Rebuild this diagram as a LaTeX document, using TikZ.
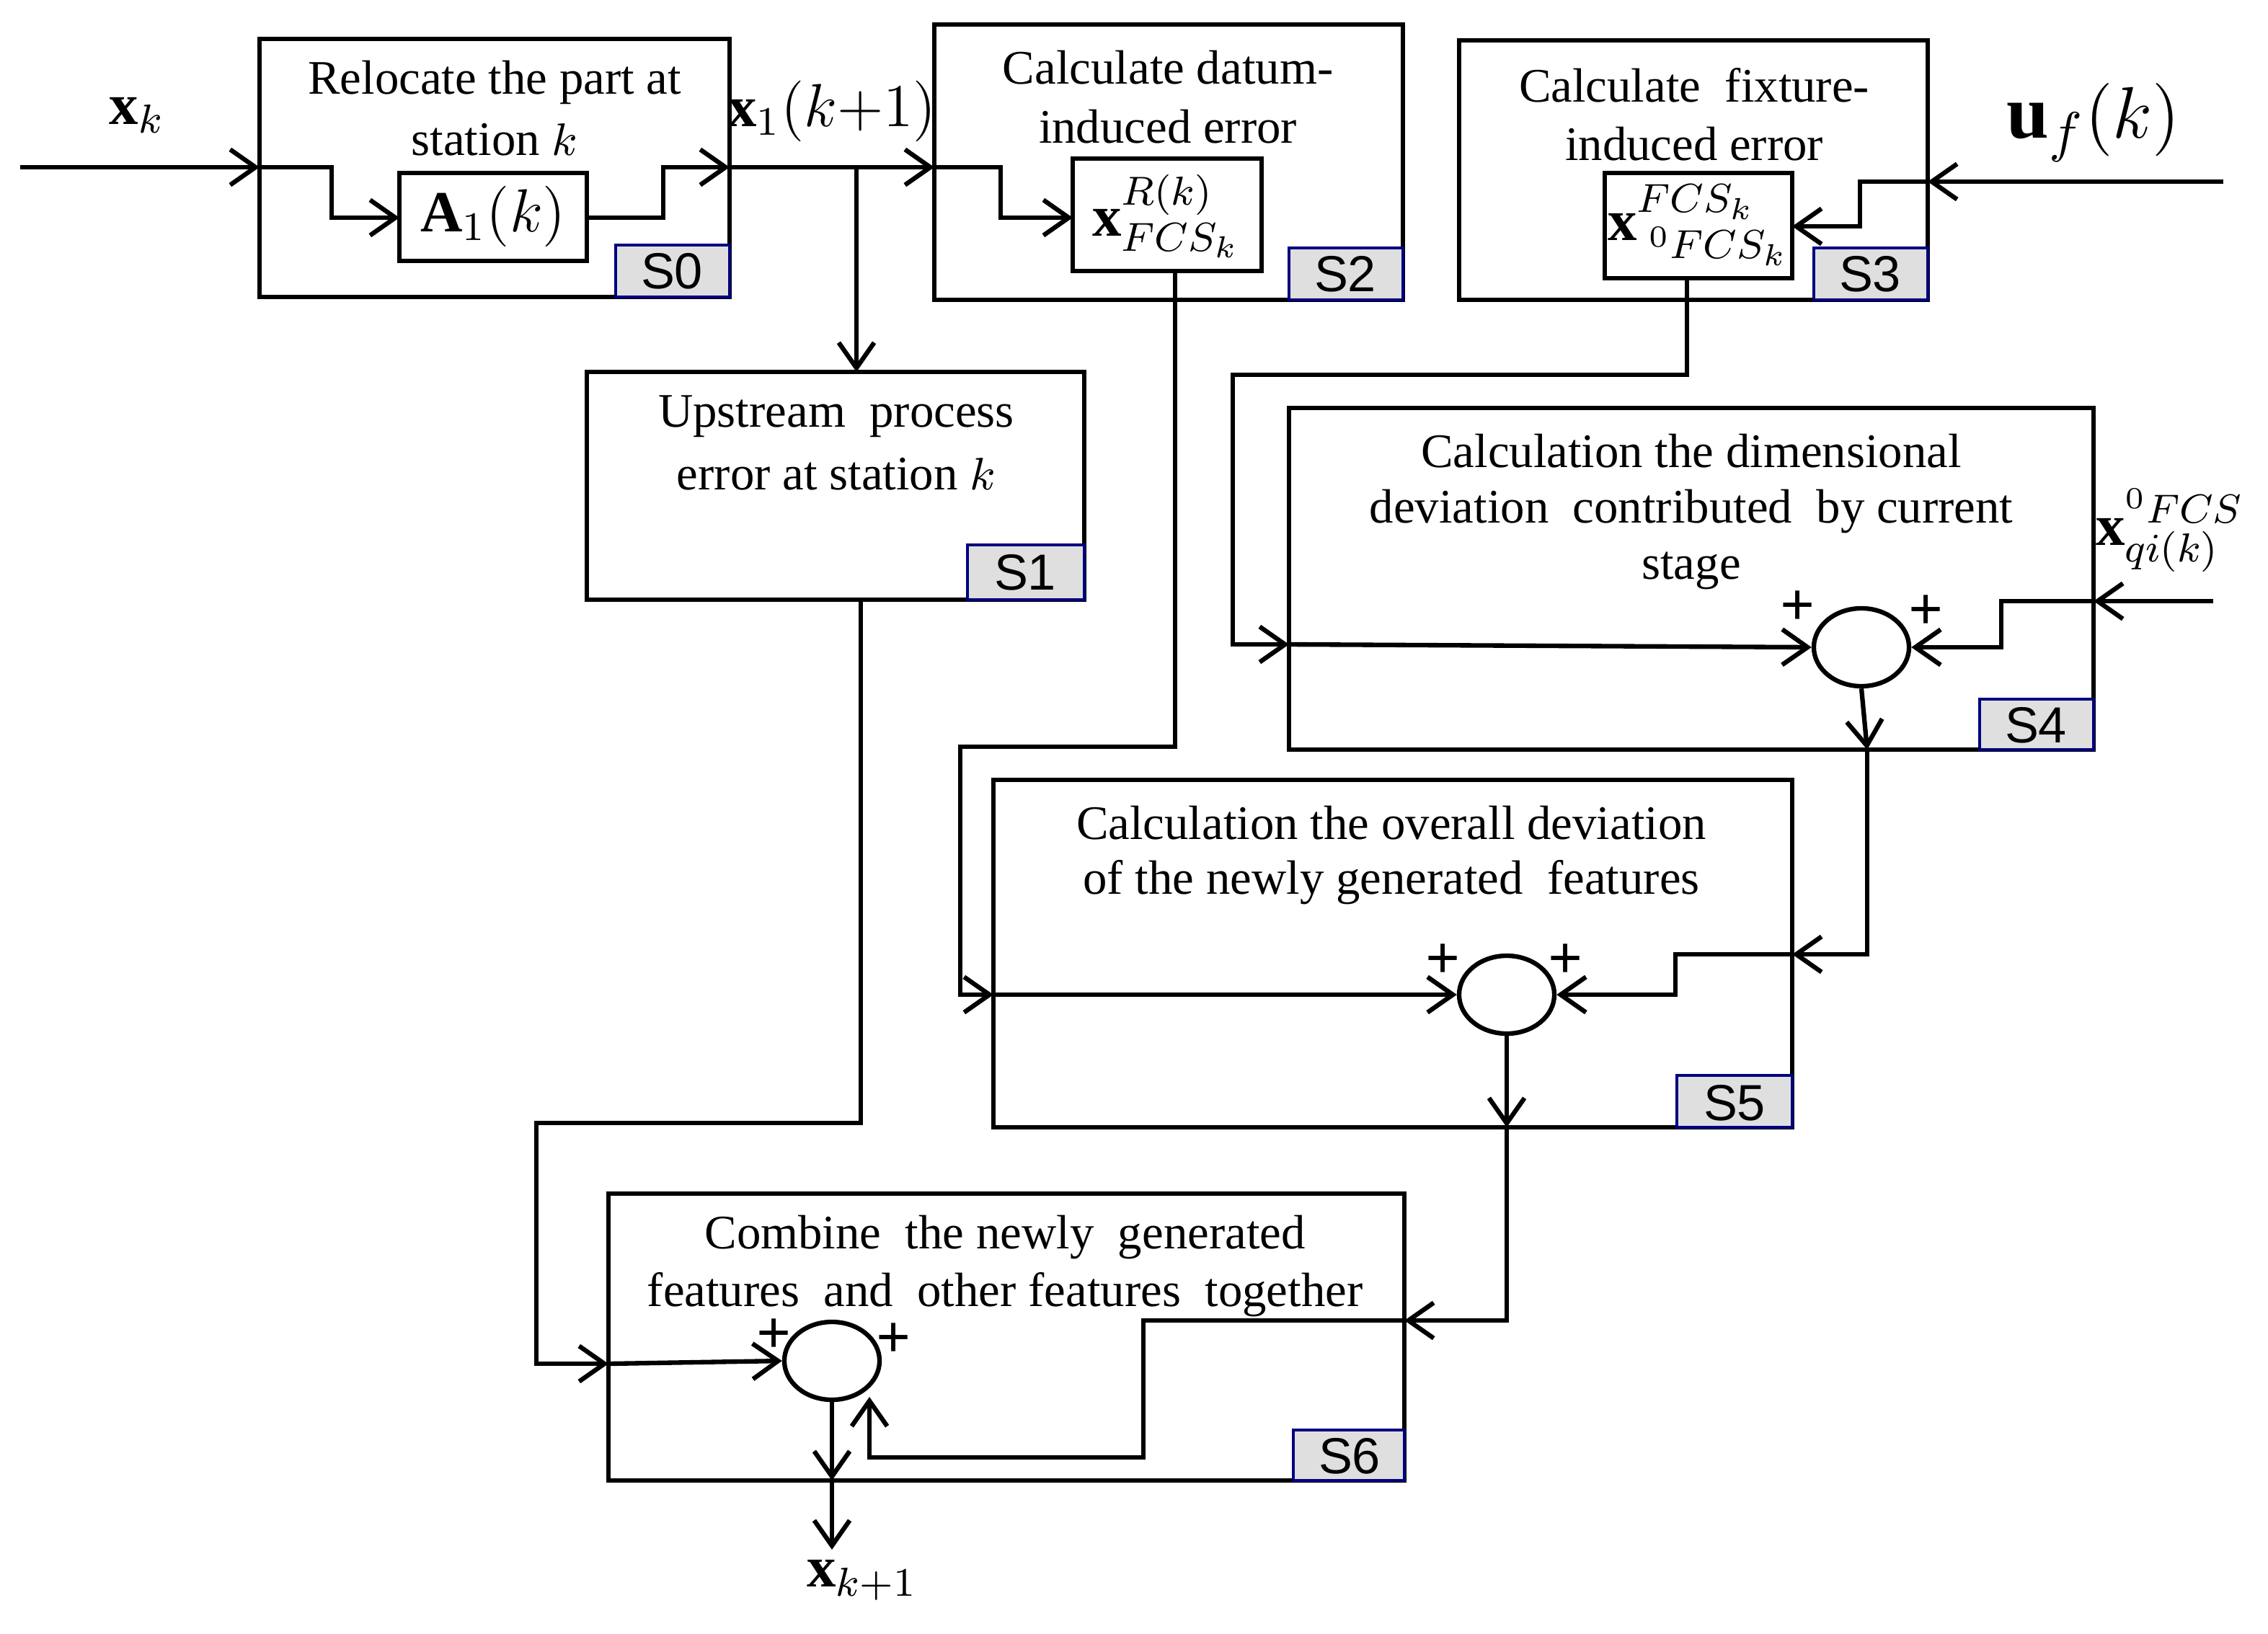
\documentclass[tikz,border=0pt]{standalone}
\usepackage{fontspec}
\setmainfont{Liberation Serif}
\newfontfamily\tagfont{Liberation Sans}
\usetikzlibrary{arrows.meta,shapes.geometric}
\begin{document}
\begin{tikzpicture}[x=0.01cm,y=-0.01cm,
  every node/.style={font=\fontsize{9.5}{12}\selectfont},
  box/.style={draw,line width=0.9pt},
  tag/.style={draw=blue!50!black,fill=gray!25,line width=0.6pt},
  tagt/.style={font=\tagfont\fontsize{10}{12}\selectfont},
  ar/.style={line width=0.9pt,-{Straight Barb[length=5pt,width=7pt]}},
  sum/.style={draw,line width=0.9pt,ellipse,minimum width=0.66cm,minimum height=0.54cm,inner sep=0pt},
  pl/.style={font=\bfseries\fontsize{12}{12}\selectfont},
  mt/.style={font=\fontsize{11.5}{12}\selectfont}]
\useasboundingbox (0,0) rectangle (1573,1133);
% S0
\draw[box] (180,27) rectangle (506,206);
\node at (343,57) {Relocate the part at};
\node at (343,97) {station $k$};
\draw[box] (277,120) rectangle (407,181);
\node[mt] (A) at (342,150) {$\mathbf{A}_1(k)$};
\draw[tag] (427,170) rectangle (506,206); \node[tagt] at (466,188) {S0};
\coordinate (xin) at (14,116);
\node[mt] at (95,80) {$\mathbf{x}_k$};
\draw[ar] (xin) -- (180,116);
\draw[ar] (180,116) -- (230,116) -- (230,151) -- (277,151);
\draw[ar] (407,151) -- (460,151) -- (460,116) -- (506,116);
\draw[ar] (506,116) -- (648,116);
\node[mt] at (577,77) {$\mathbf{x}_1(k{+}1)$};
\draw[ar] (594,116) -- (594,258);
% S2
\draw[box] (648,17) rectangle (973,208);
\node at (810,47) {Calculate datum-};
\node at (810,88) {induced error};
\draw[box] (744,110) rectangle (875,188);
\node[mt] at (809,150) {$\mathbf{x}^{R(k)}_{FCS_k}$};
\draw[tag] (894,172) rectangle (973,208); \node[tagt] at (933,190) {S2};
\draw[ar] (648,116) -- (694,116) -- (694,151) -- (744,151);
% S3
\draw[box] (1012,28) rectangle (1337,208);
\node at (1175,59) {Calculate~~fixture-};
\node at (1175,100) {induced error};
\draw[box] (1113,120) rectangle (1243,193);
\node[mt] at (1178,156) {$\mathbf{x}^{FCS_k}_{\;{}^0FCS_k}$};
\draw[tag] (1258,172) rectangle (1337,208); \node[tagt] at (1297,190) {S3};
\coordinate (uin) at (1542,126);
\node at (1452,85) {\fontsize{15}{15}\selectfont$\mathbf{u}_f(k)$};
\draw[ar] (uin) -- (1337,126);
\draw[ar] (1337,126) -- (1290,126) -- (1290,157) -- (1243,157);
% S1
\draw[box] (407,258) rectangle (752,416);
\node at (580,289) {Upstream~~process};
\node at (580,329) {error at station $k$};
\draw[tag] (671,378) rectangle (752,416); \node[tagt] at (711,397) {S1};
% S4
\draw[box] (894,283) rectangle (1452,520);
\node at (1173,313) {Calculation the dimensional};
\node at (1173,355) {deviation~~contributed~~by current};
\node at (1173,396) {stage};
\node[sum] (c4) at (1291,449) {};
\node[pl] at (1247,422) {+}; \node[pl] at (1336,425) {+};
\draw[tag] (1373,485) rectangle (1452,520); \node[tagt] at (1412,503) {S4};
\draw[ar] (1170,193) -- (1170,260) -- (855,260) -- (855,447) -- (894,447);
\draw[ar] (894,447) -- (c4.west);
\coordinate (qin) at (1535,417);
\node[mt] at (1505,368) {$\mathbf{x}^{{}^0FCS}_{qi(k)}$};
\draw[ar] (qin) -- (1452,417);
\draw[ar] (1452,417) -- (1388,417) -- (1388,449) -- (c4.east);
% S5
\draw[box] (689,541) rectangle (1243,782);
\node at (965,571) {Calculation the overall deviation};
\node at (965,612) {of the newly generated~~features};
\node[sum] (c5) at (1045,690) {};
\node[pl] at (1001,667) {+}; \node[pl] at (1086,667) {+};
\draw[tag] (1163,746) rectangle (1243,782); \node[tagt] at (1203,765) {S5};
\draw[ar] (c4.south) -- (1295,520);
\draw[ar] (1295,520) -- (1295,662) -- (1243,662);
\draw[ar] (1243,662) -- (1162,662) -- (1162,690) -- (c5.east);
\draw[ar] (815,188) -- (815,518) -- (666,518) -- (666,690) -- (689,690);
\draw[ar] (689,690) -- (c5.west);
% S6
\draw[box] (422,828) rectangle (974,1027);
\node at (697,858) {Combine~~the newly~~generated};
\node at (697,898) {features~~and~~other features~~together};
\node[sum] (c6) at (577,944) {};
\node[pl] at (537,927) {+}; \node[pl] at (620,930) {+};
\draw[tag] (897,992) rectangle (974,1027); \node[tagt] at (936,1010) {S6};
\draw[ar] (c5.south) -- (1045,782);
\draw[ar] (1045,782) -- (1045,916) -- (974,916);
\draw[ar] (974,916) -- (793,916) -- (793,1011) -- (603,1011) -- (603,969);
\draw[ar] (597,416) -- (597,779) -- (372,779) -- (372,946) -- (422,946);
\draw[ar] (422,946) -- (c6.west);
\draw[ar] (c6.south) -- (577,1027);
\coordinate (xout) at (577,1075);
\draw[ar] (577,1027) -- (xout);
\node[mt] at (598,1096) {$\mathbf{x}_{k+1}$};
\end{tikzpicture}
\end{document}
